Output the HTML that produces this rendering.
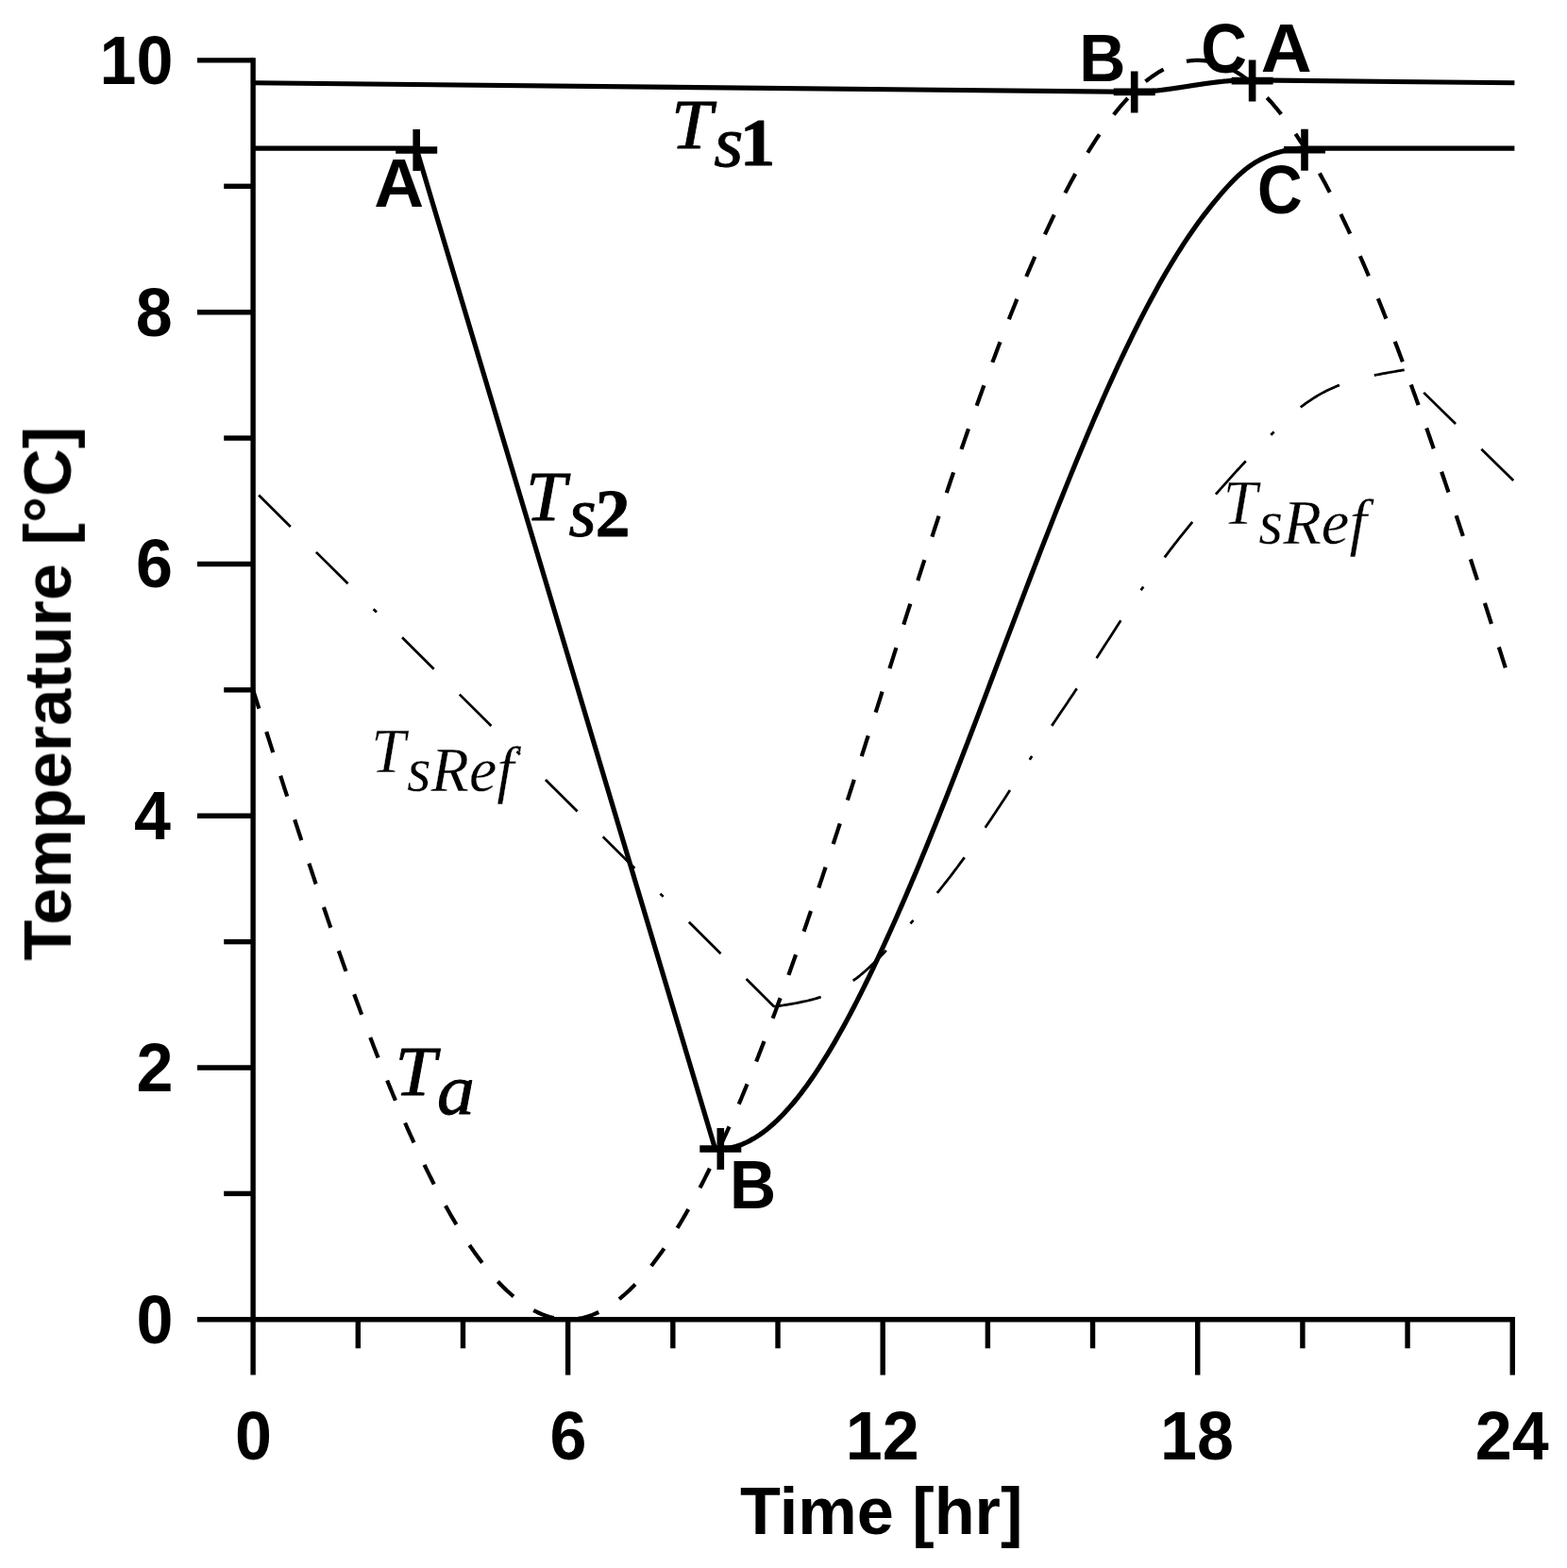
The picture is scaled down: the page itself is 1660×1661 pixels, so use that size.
<!DOCTYPE html>
<html lang="en"><head><meta charset="utf-8"><title>Temperature vs Time</title>
<style>html,body{margin:0;padding:0;background:#fff;overflow:hidden}svg{display:block}</style></head><body>
<svg width="1660" height="1661" viewBox="0 0 1660 1661">
<defs><filter id="soft" x="0" y="0" width="1660" height="1661" filterUnits="userSpaceOnUse"><feGaussianBlur stdDeviation="0.55"/></filter></defs>
<rect width="1660" height="1661" fill="#fff"/>
<g filter="url(#soft)">
<g stroke="#000" stroke-width="5.40" fill="none" stroke-linecap="butt">
<path d="M268.10 61.20 V1456.60"/>
<path d="M209.00 1397.80 H1604.96"/>
<path d="M237.20 1264.41 H268.10"/>
<path d="M209.00 1131.02 H268.10"/>
<path d="M237.20 997.63 H268.10"/>
<path d="M209.00 864.24 H268.10"/>
<path d="M237.20 730.85 H268.10"/>
<path d="M209.00 597.46 H268.10"/>
<path d="M237.20 464.07 H268.10"/>
<path d="M209.00 330.68 H268.10"/>
<path d="M237.20 197.29 H268.10"/>
<path d="M209.00 63.90 H268.10"/>
<path d="M379.28 1397.80 V1428.30"/>
<path d="M490.46 1397.80 V1428.30"/>
<path d="M601.64 1397.80 V1456.60"/>
<path d="M712.82 1397.80 V1428.30"/>
<path d="M824.00 1397.80 V1428.30"/>
<path d="M935.18 1397.80 V1456.60"/>
<path d="M1046.36 1397.80 V1428.30"/>
<path d="M1157.54 1397.80 V1428.30"/>
<path d="M1268.72 1397.80 V1456.60"/>
<path d="M1379.90 1397.80 V1428.30"/>
<path d="M1491.08 1397.80 V1428.30"/>
<path d="M1602.26 1397.80 V1456.60"/>
</g>
<text transform="translate(393.37 818.40) scale(0.8679 0.8944)" font-family="'Liberation Serif', 'Times New Roman', serif" font-size="75.0" font-style="italic" font-weight="normal" fill="#000" stroke="#fff" stroke-width="0.35" stroke-linejoin="round">T<tspan dx="1.54" dy="21.81" font-size="76.13" font-style="italic" font-weight="normal">sRef</tspan></text>
<text transform="translate(1295.77 555.30) scale(0.8679 0.8944)" font-family="'Liberation Serif', 'Times New Roman', serif" font-size="75.0" font-style="italic" font-weight="normal" fill="#000" stroke="#fff" stroke-width="0.35" stroke-linejoin="round">T<tspan dx="1.53" dy="22.91" font-size="76.74" font-style="italic" font-weight="normal">sRef</tspan></text>
<path d="M268.10 730.85 L269.21 734.35 L270.33 737.84 L271.44 741.33 L272.55 744.83 L273.66 748.32 L274.78 751.82 L275.89 755.31 L277.00 758.80 L278.11 762.29 L279.23 765.78 L280.34 769.27 L281.45 772.76 L282.57 776.25 L283.68 779.74 L284.79 783.22 L285.90 786.71 L287.02 790.19 L288.13 793.67 L289.24 797.15 L290.35 800.62 L291.47 804.10 L292.58 807.57 L293.69 811.04 L294.81 814.51 L295.92 817.98 L297.03 821.44 L298.14 824.90 L299.26 828.36 L300.37 831.82 L301.48 835.27 L302.59 838.72 L303.71 842.17 L304.82 845.61 L305.93 849.05 L307.05 852.49 L308.16 855.93 L309.27 859.36 L310.38 862.79 L311.50 866.21 L312.61 869.63 L313.72 873.05 L314.83 876.46 L315.95 879.87 L317.06 883.27 L318.17 886.67 L319.29 890.07 L320.40 893.46 L321.51 896.85 L322.62 900.23 L323.74 903.61 L324.85 906.98 L325.96 910.35 L327.07 913.72 L328.19 917.07 L329.30 920.43 L330.41 923.78 L331.53 927.12 L332.64 930.46 L333.75 933.79 L334.86 937.12 L335.98 940.44 L337.09 943.75 L338.20 947.06 L339.31 950.36 L340.43 953.66 L341.54 956.95 L342.65 960.24 L343.77 963.52 L344.88 966.79 L345.99 970.05 L347.10 973.31 L348.22 976.57 L349.33 979.81 L350.44 983.05 L351.55 986.28 L352.67 989.51 L353.78 992.73 L354.89 995.94 L356.01 999.14 L357.12 1002.34 L358.23 1005.52 L359.34 1008.71 L360.46 1011.88 L361.57 1015.04 L362.68 1018.20 L363.79 1021.35 L364.91 1024.49 L366.02 1027.63 L367.13 1030.75 L368.25 1033.87 L369.36 1036.98 L370.47 1040.08 L371.58 1043.18 L372.70 1046.26 L373.81 1049.33 L374.92 1052.40 L376.03 1055.46 L377.15 1058.51 L378.26 1061.55 L379.37 1064.58 L380.49 1067.60 L381.60 1070.61 L382.71 1073.61 L383.82 1076.61 L384.94 1079.59 L386.05 1082.57 L387.16 1085.53 L388.27 1088.49 L389.39 1091.43 L390.50 1094.37 L391.61 1097.29 L392.73 1100.21 L393.84 1103.11 L394.95 1106.01 L396.06 1108.89 L397.18 1111.76 L398.29 1114.63 L399.40 1117.48 L400.51 1120.32 L401.63 1123.16 L402.74 1125.98 L403.85 1128.79 L404.97 1131.59 L406.08 1134.37 L407.19 1137.15 L408.30 1139.92 L409.42 1142.67 L410.53 1145.42 L411.64 1148.15 L412.75 1150.87 L413.87 1153.58 L414.98 1156.28 L416.09 1158.96 L417.21 1161.64 L418.32 1164.30 L419.43 1166.95 L420.54 1169.59 L421.66 1172.21 L422.77 1174.83 L423.88 1177.43 L424.99 1180.02 L426.11 1182.60 L427.22 1185.16 L428.33 1187.71 L429.45 1190.25 L430.56 1192.78 L431.67 1195.30 L432.78 1197.80 L433.90 1200.29 L435.01 1202.76 L436.12 1205.23 L437.23 1207.68 L438.35 1210.11 L439.46 1212.54 L440.57 1214.95 L441.69 1217.35 L442.80 1219.73 L443.91 1222.10 L445.02 1224.46 L446.14 1226.80 L447.25 1229.13 L448.36 1231.45 L449.47 1233.75 L450.59 1236.04 L451.70 1238.31 L452.81 1240.58 L453.93 1242.82 L455.04 1245.06 L456.15 1247.27 L457.26 1249.48 L458.38 1251.67 L459.49 1253.85 L460.60 1256.01 L461.71 1258.15 L462.83 1260.29 L463.94 1262.41 L465.05 1264.51 L466.17 1266.60 L467.28 1268.67 L468.39 1270.73 L469.50 1272.78 L470.62 1274.81 L471.73 1276.82 L472.84 1278.82 L473.95 1280.81 L475.07 1282.78 L476.18 1284.73 L477.29 1286.67 L478.41 1288.59 L479.52 1290.50 L480.63 1292.40 L481.74 1294.27 L482.86 1296.14 L483.97 1297.98 L485.08 1299.81 L486.19 1301.63 L487.31 1303.43 L488.42 1305.22 L489.53 1306.98 L490.65 1308.74 L491.76 1310.47 L492.87 1312.19 L493.98 1313.90 L495.10 1315.59 L496.21 1317.26 L497.32 1318.92 L498.43 1320.56 L499.55 1322.18 L500.66 1323.79 L501.77 1325.38 L502.89 1326.96 L504.00 1328.52 L505.11 1330.06 L506.22 1331.59 L507.34 1333.10 L508.45 1334.59 L509.56 1336.07 L510.67 1337.53 L511.79 1338.97 L512.90 1340.40 L514.01 1341.81 L515.13 1343.20 L516.24 1344.58 L517.35 1345.94 L518.46 1347.28 L519.58 1348.61 L520.69 1349.92 L521.80 1351.21 L522.91 1352.48 L524.03 1353.74 L525.14 1354.98 L526.25 1356.21 L527.37 1357.41 L528.48 1358.60 L529.59 1359.77 L530.70 1360.93 L531.82 1362.06 L532.93 1363.18 L534.04 1364.29 L535.15 1365.37 L536.27 1366.44 L537.38 1367.49 L538.49 1368.52 L539.61 1369.54 L540.72 1370.54 L541.83 1371.52 L542.94 1372.48 L544.06 1373.43 L545.17 1374.35 L546.28 1375.26 L547.39 1376.15 L548.51 1377.03 L549.62 1377.89 L550.73 1378.72 L551.85 1379.55 L552.96 1380.35 L554.07 1381.13 L555.18 1381.90 L556.30 1382.65 L557.41 1383.38 L558.52 1384.10 L559.63 1384.79 L560.75 1385.47 L561.86 1386.13 L562.97 1386.77 L564.09 1387.40 L565.20 1388.00 L566.31 1388.59 L567.42 1389.16 L568.54 1389.71 L569.65 1390.24 L570.76 1390.76 L571.87 1391.26 L572.99 1391.74 L574.10 1392.20 L575.21 1392.64 L576.33 1393.07 L577.44 1393.47 L578.55 1393.86 L579.66 1394.23 L580.78 1394.58 L581.89 1394.92 L583.00 1395.23 L584.11 1395.53 L585.23 1395.81 L586.34 1396.07 L587.45 1396.31 L588.57 1396.54 L589.68 1396.74 L590.79 1396.93 L591.90 1397.10 L593.02 1397.25 L594.13 1397.38 L595.24 1397.50 L596.35 1397.59 L597.47 1397.67 L598.58 1397.73 L599.69 1397.77 L600.81 1397.79 L601.92 1397.80 L603.03 1397.79 L604.14 1397.75 L605.26 1397.70 L606.37 1397.63 L607.48 1397.55 L608.59 1397.44 L609.71 1397.32 L610.82 1397.18 L611.93 1397.02 L613.05 1396.84 L614.16 1396.64 L615.27 1396.43 L616.38 1396.19 L617.50 1395.94 L618.61 1395.67 L619.72 1395.38 L620.83 1395.08 L621.95 1394.75 L623.06 1394.41 L624.17 1394.05 L625.29 1393.67 L626.40 1393.27 L627.51 1392.86 L628.62 1392.42 L629.74 1391.97 L630.85 1391.50 L631.96 1391.01 L633.07 1390.50 L634.19 1389.98 L635.30 1389.44 L636.41 1388.88 L637.53 1388.30 L638.64 1387.70 L639.75 1387.09 L640.86 1386.45 L641.98 1385.80 L643.09 1385.13 L644.20 1384.45 L645.31 1383.74 L646.43 1383.02 L647.54 1382.28 L648.65 1381.52 L649.77 1380.74 L650.88 1379.95 L651.99 1379.14 L653.10 1378.31 L654.22 1377.46 L655.33 1376.59 L656.44 1375.71 L657.55 1374.81 L658.67 1373.89 L659.78 1372.95 L660.89 1372.00 L662.01 1371.03 L663.12 1370.04 L664.23 1369.03 L665.34 1368.01 L666.46 1366.97 L667.57 1365.91 L668.68 1364.83 L669.79 1363.74 L670.91 1362.63 L672.02 1361.50 L673.13 1360.35 L674.25 1359.19 L675.36 1358.01 L676.47 1356.81 L677.58 1355.60 L678.70 1354.36 L679.81 1353.11 L680.92 1351.85 L682.03 1350.56 L683.15 1349.26 L684.26 1347.95 L685.37 1346.61 L686.49 1345.26 L687.60 1343.89 L688.71 1342.51 L689.82 1341.11 L690.94 1339.69 L692.05 1338.25 L693.16 1336.80 L694.27 1335.33 L695.39 1333.85 L696.50 1332.35 L697.61 1330.83 L698.73 1329.29 L699.84 1327.74 L700.95 1326.17 L702.06 1324.59 L703.18 1322.99 L704.29 1321.37 L705.40 1319.74 L706.51 1318.09 L707.63 1316.43 L708.74 1314.75 L709.85 1313.05 L710.97 1311.34 L712.08 1309.61 L713.19 1307.86 L714.30 1306.10 L715.42 1304.33 L716.53 1302.53 L717.64 1300.72 L718.75 1298.90 L719.87 1297.06 L720.98 1295.21 L722.09 1293.34 L723.21 1291.45 L724.32 1289.55 L725.43 1287.63 L726.54 1285.70 L727.66 1283.75 L728.77 1281.79 L729.88 1279.82 L730.99 1277.82 L732.11 1275.82 L733.22 1273.79 L734.33 1271.76 L735.45 1269.70 L736.56 1267.64 L737.67 1265.56 L738.78 1263.46 L739.90 1261.35 L741.01 1259.22 L742.12 1257.08 L743.23 1254.93 L744.35 1252.76 L745.46 1250.58 L746.57 1248.38 L747.69 1246.17 L748.80 1243.94 L749.91 1241.70 L751.02 1239.45 L752.14 1237.18 L753.25 1234.90 L754.36 1232.60 L755.47 1230.29 L756.59 1227.97 L757.70 1225.63 L758.81 1223.28 L759.93 1220.92 L761.04 1218.54 L762.15 1216.15 L763.26 1213.75 L764.38 1211.33 L765.49 1208.90 L766.60 1206.45 L767.71 1204.00 L768.83 1201.53 L769.94 1199.04 L771.05 1196.55 L772.17 1194.04 L773.28 1191.52 L774.39 1188.99 L775.50 1186.44 L776.62 1183.88 L777.73 1181.31 L778.84 1178.73 L779.95 1176.13 L781.07 1173.52 L782.18 1170.90 L783.29 1168.27 L784.41 1165.62 L785.52 1162.97 L786.63 1160.30 L787.74 1157.62 L788.86 1154.93 L789.97 1152.23 L791.08 1149.51 L792.19 1146.78 L793.31 1144.05 L794.42 1141.30 L795.53 1138.54 L796.65 1135.76 L797.76 1132.98 L798.87 1130.19 L799.98 1127.38 L801.10 1124.57 L802.21 1121.74 L803.32 1118.90 L804.43 1116.06 L805.55 1113.20 L806.66 1110.33 L807.77 1107.45 L808.89 1104.56 L810.00 1101.66 L811.11 1098.75 L812.22 1095.83 L813.34 1092.90 L814.45 1089.96 L815.56 1087.01 L816.67 1084.05 L817.79 1081.08 L818.90 1078.10 L820.01 1075.11 L821.13 1072.11 L822.24 1069.11 L823.35 1066.09 L824.46 1063.06 L825.58 1060.03 L826.69 1056.98 L827.80 1053.93 L828.91 1050.87 L830.03 1047.80 L831.14 1044.72 L832.25 1041.63 L833.37 1038.53 L834.48 1035.43 L835.59 1032.31 L836.70 1029.19 L837.82 1026.06 L838.93 1022.92 L840.04 1019.78 L841.15 1016.62 L842.27 1013.46 L843.38 1010.29 L844.49 1007.12 L845.61 1003.93 L846.72 1000.74 L847.83 997.54 L848.94 994.33 L850.06 991.12 L851.17 987.90 L852.28 984.67 L853.39 981.43 L854.51 978.19 L855.62 974.94 L856.73 971.68 L857.85 968.42 L858.96 965.15 L860.07 961.88 L861.18 958.60 L862.30 955.31 L863.41 952.01 L864.52 948.71 L865.63 945.41 L866.75 942.09 L867.86 938.78 L868.97 935.45 L870.09 932.12 L871.20 928.79 L872.31 925.45 L873.42 922.10 L874.54 918.75 L875.65 915.40 L876.76 912.03 L877.87 908.67 L878.99 905.30 L880.10 901.92 L881.21 898.54 L882.33 895.16 L883.44 891.77 L884.55 888.37 L885.66 884.97 L886.78 881.57 L887.89 878.16 L889.00 874.75 L890.11 871.34 L891.23 867.92 L892.34 864.50 L893.45 861.07 L894.57 857.64 L895.68 854.21 L896.79 850.77 L897.90 847.33 L899.02 843.89 L900.13 840.44 L901.24 837.00 L902.35 833.54 L903.47 830.09 L904.58 826.63 L905.69 823.17 L906.81 819.71 L907.92 816.24 L909.03 812.78 L910.14 809.31 L911.26 805.83 L912.37 802.36 L913.48 798.89 L914.59 795.41 L915.71 791.93 L916.82 788.45 L917.93 784.96 L919.05 781.48 L920.16 777.99 L921.27 774.51 L922.38 771.02 L923.50 767.53 L924.61 764.04 L925.72 760.55 L926.83 757.06 L927.95 753.56 L929.06 750.07 L930.17 746.58 L931.29 743.08 L932.40 739.59 L933.51 736.09 L934.62 732.60 L935.74 729.10 L936.85 725.61 L937.96 722.11 L939.07 718.62 L940.19 715.12 L941.30 711.63 L942.41 708.14 L943.53 704.64 L944.64 701.15 L945.75 697.66 L946.86 694.17 L947.98 690.68 L949.09 687.19 L950.20 683.71 L951.31 680.22 L952.43 676.74 L953.54 673.25 L954.65 669.77 L955.77 666.29 L956.88 662.81 L957.99 659.34 L959.10 655.87 L960.22 652.39 L961.33 648.92 L962.44 645.46 L963.55 641.99 L964.67 638.53 L965.78 635.07 L966.89 631.61 L968.01 628.16 L969.12 624.70 L970.23 621.26 L971.34 617.81 L972.46 614.37 L973.57 610.93 L974.68 607.49 L975.79 604.06 L976.91 600.63 L978.02 597.20 L979.13 593.78 L980.25 590.36 L981.36 586.95 L982.47 583.54 L983.58 580.13 L984.70 576.73 L985.81 573.33 L986.92 569.93 L988.03 566.54 L989.15 563.16 L990.26 559.78 L991.37 556.40 L992.49 553.03 L993.60 549.67 L994.71 546.30 L995.82 542.95 L996.94 539.60 L998.05 536.25 L999.16 532.91 L1000.27 529.58 L1001.39 526.25 L1002.50 522.92 L1003.61 519.61 L1004.73 516.29 L1005.84 512.99 L1006.95 509.69 L1008.06 506.39 L1009.18 503.10 L1010.29 499.82 L1011.40 496.55 L1012.51 493.28 L1013.63 490.02 L1014.74 486.76 L1015.85 483.51 L1016.97 480.27 L1018.08 477.03 L1019.19 473.80 L1020.30 470.58 L1021.42 467.37 L1022.53 464.16 L1023.64 460.96 L1024.75 457.77 L1025.87 454.58 L1026.98 451.41 L1028.09 448.24 L1029.21 445.08 L1030.32 441.92 L1031.43 438.78 L1032.54 435.64 L1033.66 432.51 L1034.77 429.39 L1035.88 426.27 L1036.99 423.17 L1038.11 420.07 L1039.22 416.98 L1040.33 413.90 L1041.45 410.83 L1042.56 407.77 L1043.67 404.72 L1044.78 401.67 L1045.90 398.64 L1047.01 395.61 L1048.12 392.59 L1049.23 389.59 L1050.35 386.59 L1051.46 383.60 L1052.57 380.62 L1053.69 377.65 L1054.80 374.69 L1055.91 371.74 L1057.02 368.80 L1058.14 365.87 L1059.25 362.95 L1060.36 360.04 L1061.47 357.14 L1062.59 354.25 L1063.70 351.37 L1064.81 348.50 L1065.93 345.64 L1067.04 342.80 L1068.15 339.96 L1069.26 337.13 L1070.38 334.32 L1071.49 331.51 L1072.60 328.72 L1073.71 325.94 L1074.83 323.16 L1075.94 320.40 L1077.05 317.65 L1078.17 314.92 L1079.28 312.19 L1080.39 309.47 L1081.50 306.77 L1082.62 304.08 L1083.73 301.40 L1084.84 298.73 L1085.95 296.08 L1087.07 293.43 L1088.18 290.80 L1089.29 288.18 L1090.41 285.57 L1091.52 282.97 L1092.63 280.39 L1093.74 277.82 L1094.86 275.26 L1095.97 272.71 L1097.08 270.18 L1098.19 267.66 L1099.31 265.15 L1100.42 262.66 L1101.53 260.17 L1102.65 257.70 L1103.76 255.25 L1104.87 252.80 L1105.98 250.37 L1107.10 247.95 L1108.21 245.55 L1109.32 243.16 L1110.43 240.78 L1111.55 238.42 L1112.66 236.07 L1113.77 233.73 L1114.89 231.41 L1116.00 229.10 L1117.11 226.80 L1118.22 224.52 L1119.34 222.25 L1120.45 220.00 L1121.56 217.76 L1122.67 215.53 L1123.79 213.32 L1124.90 211.12 L1126.01 208.94 L1127.13 206.77 L1128.24 204.62 L1129.35 202.48 L1130.46 200.35 L1131.58 198.24 L1132.69 196.14 L1133.80 194.06 L1134.91 192.00 L1136.03 189.94 L1137.14 187.91 L1138.25 185.88 L1139.37 183.88 L1140.48 181.88 L1141.59 179.91 L1142.70 177.95 L1143.82 176.00 L1144.93 174.07 L1146.04 172.15 L1147.15 170.25 L1148.27 168.36 L1149.38 166.49 L1150.49 164.64 L1151.61 162.80 L1152.72 160.98 L1153.83 159.17 L1154.94 157.37 L1156.06 155.60 L1157.17 153.84 L1158.28 152.09 L1159.39 150.36 L1160.51 148.65 L1161.62 146.95 L1162.73 145.27 L1163.85 143.61 L1164.96 141.96 L1166.07 140.33 L1167.18 138.71 L1168.30 137.11 L1169.41 135.53 L1170.52 133.96 L1171.63 132.41 L1172.75 130.87 L1173.86 129.35 L1174.97 127.85 L1176.09 126.37 L1177.20 124.90 L1178.31 123.45 L1179.42 122.01 L1180.54 120.59 L1181.65 119.19 L1182.76 117.81 L1183.87 116.44 L1184.99 115.09 L1186.10 113.75 L1187.21 112.44 L1188.33 111.14 L1189.44 109.85 L1190.55 108.59 L1191.66 107.34 L1192.78 106.10 L1193.89 104.89 L1195.00 103.69 L1196.11 102.51 L1197.23 101.35 L1198.34 100.20 L1199.45 99.07 L1200.57 97.96 L1201.68 96.87 L1202.79 95.79 L1203.90 94.73 L1205.02 93.69 L1206.13 92.67 L1207.24 91.66 L1208.35 90.67 L1209.47 89.70 L1210.58 88.75 L1211.69 87.81 L1212.81 86.89 L1213.92 85.99 L1215.03 85.11 L1216.14 84.24 L1217.26 83.39 L1218.37 82.56 L1219.48 81.75 L1220.59 80.96 L1221.71 80.18 L1222.82 79.42 L1223.93 78.68 L1225.05 77.96 L1226.16 77.25 L1227.27 76.57 L1228.38 75.90 L1229.50 75.25 L1230.61 74.61 L1231.72 74.00 L1232.83 73.40 L1233.95 72.82 L1235.06 72.26 L1236.17 71.72 L1237.29 71.20 L1238.40 70.69 L1239.51 70.20 L1240.62 69.73 L1241.74 69.28 L1242.85 68.84 L1243.96 68.43 L1245.07 68.03 L1246.19 67.65 L1247.30 67.29 L1248.41 66.95 L1249.53 66.62 L1250.64 66.32 L1251.75 66.03 L1252.86 65.76 L1253.98 65.51 L1255.09 65.27 L1256.20 65.06 L1257.31 64.86 L1258.43 64.68 L1259.54 64.52 L1260.65 64.38 L1261.77 64.26 L1262.88 64.15 L1263.99 64.07 L1265.10 64.00 L1266.22 63.95 L1267.33 63.91 L1268.44 63.90 L1269.55 63.91 L1270.67 63.93 L1271.78 63.97 L1272.89 64.03 L1274.01 64.11 L1275.12 64.20 L1276.23 64.32 L1277.34 64.45 L1278.46 64.60 L1279.57 64.77 L1280.68 64.96 L1281.79 65.16 L1282.91 65.39 L1284.02 65.63 L1285.13 65.89 L1286.25 66.17 L1287.36 66.47 L1288.47 66.78 L1289.58 67.12 L1290.70 67.47 L1291.81 67.84 L1292.92 68.23 L1294.03 68.63 L1295.15 69.06 L1296.26 69.50 L1297.37 69.96 L1298.49 70.44 L1299.60 70.94 L1300.71 71.46 L1301.82 71.99 L1302.94 72.54 L1304.05 73.11 L1305.16 73.70 L1306.27 74.30 L1307.39 74.93 L1308.50 75.57 L1309.61 76.23 L1310.73 76.91 L1311.84 77.60 L1312.95 78.32 L1314.06 79.05 L1315.18 79.80 L1316.29 80.57 L1317.40 81.35 L1318.51 82.15 L1319.63 82.98 L1320.74 83.81 L1321.85 84.67 L1322.97 85.55 L1324.08 86.44 L1325.19 87.35 L1326.30 88.27 L1327.42 89.22 L1328.53 90.18 L1329.64 91.16 L1330.75 92.16 L1331.87 93.18 L1332.98 94.21 L1334.09 95.26 L1335.21 96.33 L1336.32 97.41 L1337.43 98.52 L1338.54 99.64 L1339.66 100.77 L1340.77 101.93 L1341.88 103.10 L1342.99 104.29 L1344.11 105.49 L1345.22 106.72 L1346.33 107.96 L1347.45 109.22 L1348.56 110.49 L1349.67 111.78 L1350.78 113.09 L1351.90 114.42 L1353.01 115.76 L1354.12 117.12 L1355.23 118.50 L1356.35 119.89 L1357.46 121.30 L1358.57 122.73 L1359.69 124.17 L1360.80 125.63 L1361.91 127.11 L1363.02 128.60 L1364.14 130.11 L1365.25 131.64 L1366.36 133.18 L1367.47 134.74 L1368.59 136.32 L1369.70 137.91 L1370.81 139.52 L1371.93 141.14 L1373.04 142.78 L1374.15 144.44 L1375.26 146.11 L1376.38 147.80 L1377.49 149.51 L1378.60 151.23 L1379.71 152.96 L1380.83 154.72 L1381.94 156.48 L1383.05 158.27 L1384.17 160.07 L1385.28 161.89 L1386.39 163.72 L1387.50 165.56 L1388.62 167.43 L1389.73 169.30 L1390.84 171.20 L1391.95 173.11 L1393.07 175.03 L1394.18 176.97 L1395.29 178.92 L1396.41 180.89 L1397.52 182.88 L1398.63 184.88 L1399.74 186.89 L1400.86 188.92 L1401.97 190.97 L1403.08 193.03 L1404.19 195.10 L1405.31 197.19 L1406.42 199.29 L1407.53 201.41 L1408.65 203.55 L1409.76 205.69 L1410.87 207.85 L1411.98 210.03 L1413.10 212.22 L1414.21 214.43 L1415.32 216.64 L1416.43 218.88 L1417.55 221.12 L1418.66 223.39 L1419.77 225.66 L1420.89 227.95 L1422.00 230.25 L1423.11 232.57 L1424.22 234.90 L1425.34 237.24 L1426.45 239.60 L1427.56 241.97 L1428.67 244.35 L1429.79 246.75 L1430.90 249.16 L1432.01 251.59 L1433.13 254.02 L1434.24 256.47 L1435.35 258.94 L1436.46 261.41 L1437.58 263.90 L1438.69 266.40 L1439.80 268.92 L1440.91 271.45 L1442.03 273.99 L1443.14 276.54 L1444.25 279.10 L1445.37 281.68 L1446.48 284.27 L1447.59 286.87 L1448.70 289.49 L1449.82 292.11 L1450.93 294.75 L1452.04 297.40 L1453.15 300.06 L1454.27 302.74 L1455.38 305.42 L1456.49 308.12 L1457.61 310.83 L1458.72 313.55 L1459.83 316.28 L1460.94 319.03 L1462.06 321.78 L1463.17 324.55 L1464.28 327.33 L1465.39 330.11 L1466.51 332.91 L1467.62 335.72 L1468.73 338.54 L1469.85 341.38 L1470.96 344.22 L1472.07 347.07 L1473.18 349.94 L1474.30 352.81 L1475.41 355.69 L1476.52 358.59 L1477.63 361.49 L1478.75 364.41 L1479.86 367.33 L1480.97 370.27 L1482.09 373.21 L1483.20 376.17 L1484.31 379.13 L1485.42 382.11 L1486.54 385.09 L1487.65 388.09 L1488.76 391.09 L1489.87 394.10 L1490.99 397.12 L1492.10 400.15 L1493.21 403.19 L1494.33 406.24 L1495.44 409.30 L1496.55 412.37 L1497.66 415.44 L1498.78 418.52 L1499.89 421.62 L1501.00 424.72 L1502.11 427.83 L1503.23 430.95 L1504.34 434.07 L1505.45 437.21 L1506.57 440.35 L1507.68 443.50 L1508.79 446.66 L1509.90 449.82 L1511.02 452.99 L1512.13 456.18 L1513.24 459.36 L1514.35 462.56 L1515.47 465.76 L1516.58 468.97 L1517.69 472.19 L1518.81 475.42 L1519.92 478.65 L1521.03 481.89 L1522.14 485.13 L1523.26 488.39 L1524.37 491.65 L1525.48 494.91 L1526.59 498.18 L1527.71 501.46 L1528.82 504.75 L1529.93 508.04 L1531.05 511.34 L1532.16 514.64 L1533.27 517.95 L1534.38 521.26 L1535.50 524.58 L1536.61 527.91 L1537.72 531.24 L1538.83 534.58 L1539.95 537.92 L1541.06 541.27 L1542.17 544.63 L1543.29 547.98 L1544.40 551.35 L1545.51 554.72 L1546.62 558.09 L1547.74 561.47 L1548.85 564.85 L1549.96 568.24 L1551.07 571.63 L1552.19 575.03 L1553.30 578.43 L1554.41 581.83 L1555.53 585.24 L1556.64 588.65 L1557.75 592.07 L1558.86 595.49 L1559.98 598.91 L1561.09 602.34 L1562.20 605.77 L1563.31 609.21 L1564.43 612.65 L1565.54 616.09 L1566.65 619.53 L1567.77 622.98 L1568.88 626.43 L1569.99 629.88 L1571.10 633.34 L1572.22 636.80 L1573.33 640.26 L1574.44 643.72 L1575.55 647.19 L1576.67 650.66 L1577.78 654.13 L1578.89 657.60 L1580.01 661.08 L1581.12 664.55 L1582.23 668.03 L1583.34 671.51 L1584.46 674.99 L1585.57 678.48 L1586.68 681.96 L1587.79 685.45 L1588.91 688.94 L1590.02 692.43 L1591.13 695.92 L1592.25 699.41 L1593.36 702.90 L1594.47 706.39 L1595.58 709.88 L1596.70 713.38 L1597.81 716.87 L1598.92 720.37 L1600.03 723.86 L1601.15 727.35 L1602.26 730.85" fill="none" stroke="#000" stroke-width="4.20" stroke-dasharray="23 25.86" stroke-dashoffset="2.30"/>
<g fill="none" stroke="#000" stroke-width="2.75" stroke-dasharray="47.40 38.20 47.40 38.20 4.60 38.20">
<path d="M268.10 518.60 L820.20 1066.48" stroke-dashoffset="-8.5"/>
<path d="M820.20 1066.48 L822.43 1066.11 L824.66 1065.74 L826.90 1065.37 L829.13 1065.01 L831.36 1064.65 L833.59 1064.28 L835.83 1063.91 L838.06 1063.53 L840.29 1063.14 L842.52 1062.74 L844.76 1062.32 L846.99 1061.89 L849.22 1061.44 L851.45 1060.97 L853.69 1060.48 L855.92 1059.97 L858.15 1059.42 L860.38 1058.85 L862.62 1058.25 L864.85 1057.61 L867.08 1056.94 L869.31 1056.23 L871.55 1055.48 L873.78 1054.69 L876.01 1053.85 L878.24 1052.97 L880.48 1052.04 L882.71 1051.06 L884.94 1050.02 L887.17 1048.93 L889.41 1047.79 L891.64 1046.58 L893.87 1045.31 L896.10 1043.98 L898.34 1042.58 L900.57 1041.11 L902.80 1039.58 L905.03 1037.97 L907.27 1036.29 L909.50 1034.55 L911.73 1032.74 L913.96 1030.87 L916.19 1028.95 L918.43 1026.96 L920.66 1024.93 L922.89 1022.84 L925.12 1020.71 L927.36 1018.54 L929.59 1016.32 L931.82 1014.06 L934.05 1011.77 L936.29 1009.45 L938.52 1007.09 L940.75 1004.70 L942.98 1002.29 L945.22 999.86 L947.45 997.41 L949.68 994.94 L951.91 992.46 L954.15 989.97 L956.38 987.46 L958.61 984.96 L960.84 982.44 L963.08 979.93 L965.31 977.42 L967.54 974.92 L969.77 972.41 L972.01 969.91 L974.24 967.39 L976.47 964.87 L978.70 962.34 L980.94 959.79 L983.17 957.23 L985.40 954.64 L987.63 952.03 L989.87 949.39 L992.10 946.72 L994.33 944.01 L996.56 941.27 L998.80 938.50 L1001.03 935.69 L1003.26 932.85 L1005.49 929.98 L1007.73 927.08 L1009.96 924.15 L1012.19 921.19 L1014.42 918.20 L1016.65 915.19 L1018.89 912.14 L1021.12 909.08 L1023.35 905.98 L1025.58 902.87 L1027.82 899.73 L1030.05 896.56 L1032.28 893.38 L1034.51 890.17 L1036.75 886.94 L1038.98 883.70 L1041.21 880.43 L1043.44 877.15 L1045.68 873.85 L1047.91 870.53 L1050.14 867.20 L1052.37 863.85 L1054.61 860.49 L1056.84 857.11 L1059.07 853.72 L1061.30 850.32 L1063.54 846.91 L1065.77 843.49 L1068.00 840.06 L1070.23 836.62 L1072.47 833.17 L1074.70 829.72 L1076.93 826.26 L1079.16 822.80 L1081.40 819.33 L1083.63 815.86 L1085.86 812.39 L1088.09 808.93 L1090.33 805.46 L1092.56 802.00 L1094.79 798.55 L1097.02 795.10 L1099.26 791.65 L1101.49 788.22 L1103.72 784.80 L1105.95 781.38 L1108.18 777.98 L1110.42 774.59 L1112.65 771.22 L1114.88 767.87 L1117.11 764.53 L1119.35 761.20 L1121.58 757.88 L1123.81 754.58 L1126.04 751.27 L1128.28 747.97 L1130.51 744.66 L1132.74 741.35 L1134.97 738.03 L1137.21 734.70 L1139.44 731.35 L1141.67 727.99 L1143.90 724.60 L1146.14 721.20 L1148.37 717.79 L1150.60 714.36 L1152.83 710.92 L1155.07 707.46 L1157.30 704.00 L1159.53 700.53 L1161.76 697.05 L1164.00 693.57 L1166.23 690.09 L1168.46 686.60 L1170.69 683.11 L1172.93 679.63 L1175.16 676.14 L1177.39 672.66 L1179.62 669.19 L1181.86 665.72 L1184.09 662.26 L1186.32 658.82 L1188.55 655.38 L1190.79 651.96 L1193.02 648.55 L1195.25 645.16 L1197.48 641.78 L1199.72 638.43 L1201.95 635.09 L1204.18 631.78 L1206.41 628.49 L1208.64 625.23 L1210.88 621.99 L1213.11 618.78 L1215.34 615.59 L1217.57 612.44 L1219.81 609.31 L1222.04 606.20 L1224.27 603.12 L1226.50 600.06 L1228.74 597.02 L1230.97 594.01 L1233.20 591.03 L1235.43 588.06 L1237.67 585.12 L1239.90 582.20 L1242.13 579.30 L1244.36 576.42 L1246.60 573.56 L1248.83 570.72 L1251.06 567.90 L1253.29 565.10 L1255.53 562.31 L1257.76 559.55 L1259.99 556.80 L1262.22 554.07 L1264.46 551.35 L1266.69 548.66 L1268.92 545.97 L1271.15 543.31 L1273.39 540.66 L1275.62 538.02 L1277.85 535.39 L1280.08 532.78 L1282.32 530.19 L1284.55 527.60 L1286.78 525.03 L1289.01 522.47 L1291.25 519.92 L1293.48 517.38 L1295.71 514.86 L1297.94 512.34 L1300.17 509.84 L1302.41 507.34 L1304.64 504.86 L1306.87 502.40 L1309.10 499.94 L1311.34 497.49 L1313.57 495.06 L1315.80 492.63 L1318.03 490.22 L1320.27 487.82 L1322.50 485.44 L1324.73 483.06 L1326.96 480.69 L1329.20 478.34 L1331.43 476.00 L1333.66 473.67 L1335.89 471.35 L1338.13 469.04 L1340.36 466.75 L1342.59 464.46 L1344.82 462.19 L1347.06 459.93 L1349.29 457.68 L1351.52 455.44 L1353.75 453.23 L1355.99 451.03 L1358.22 448.85 L1360.45 446.71 L1362.68 444.60 L1364.92 442.52 L1367.15 440.49 L1369.38 438.49 L1371.61 436.55 L1373.85 434.66 L1376.08 432.83 L1378.31 431.05 L1380.54 429.34 L1382.78 427.68 L1385.01 426.08 L1387.24 424.54 L1389.47 423.05 L1391.71 421.62 L1393.94 420.24 L1396.17 418.91 L1398.40 417.63 L1400.63 416.40 L1402.87 415.22 L1405.10 414.08 L1407.33 412.99 L1409.56 411.94 L1411.80 410.93 L1414.03 409.96 L1416.26 409.03 L1418.49 408.14 L1420.73 407.28 L1422.96 406.46 L1425.19 405.67 L1427.42 404.92 L1429.66 404.19 L1431.89 403.50 L1434.12 402.83 L1436.35 402.19 L1438.59 401.58 L1440.82 400.99 L1443.05 400.42 L1445.28 399.88 L1447.52 399.35 L1449.75 398.85 L1451.98 398.36 L1454.21 397.88 L1456.45 397.42 L1458.68 396.98 L1460.91 396.55 L1463.14 396.12 L1465.38 395.71 L1467.61 395.31 L1469.84 394.91 L1472.07 394.52 L1474.31 394.13 L1476.54 393.74 L1478.77 393.36 L1481.00 392.97 L1483.24 392.59 L1485.47 392.20 L1487.70 391.80" stroke-dasharray="47.59 38.35 47.59 38.35 4.62 38.35" stroke-dashoffset="-3"/>
<path d="M820.20 1066.48 L822.43 1066.11 L824.66 1065.74" stroke-dasharray="none"/>
<path d="M1487.70 395.80 L1604.00 509.80" stroke-dashoffset="185.3"/>
</g>
<path d="M268.10 157.10 L441.00 157.10 L757.60 1217.00 L760.74 1217.13 L763.88 1217.10 L767.01 1216.90 L770.15 1216.54 L773.29 1216.01 L776.43 1215.32 L779.56 1214.47 L782.70 1213.46 L785.84 1212.29 L788.98 1210.97 L792.11 1209.49 L795.25 1207.86 L798.39 1206.08 L801.53 1204.14 L804.67 1202.06 L807.80 1199.83 L810.94 1197.46 L814.08 1194.94 L817.22 1192.27 L820.35 1189.47 L823.49 1186.52 L826.63 1183.44 L829.77 1180.22 L832.90 1176.86 L836.04 1173.37 L839.18 1169.74 L842.32 1165.98 L845.46 1162.09 L848.59 1158.07 L851.73 1153.93 L854.87 1149.66 L858.01 1145.26 L861.14 1140.74 L864.28 1136.10 L867.42 1131.34 L870.56 1126.46 L873.69 1121.47 L876.83 1116.36 L879.97 1111.15 L883.11 1105.82 L886.25 1100.39 L889.38 1094.85 L892.52 1089.21 L895.66 1083.48 L898.80 1077.64 L901.93 1071.72 L905.07 1065.70 L908.21 1059.59 L911.35 1053.40 L914.48 1047.12 L917.62 1040.76 L920.76 1034.33 L923.90 1027.81 L927.04 1021.23 L930.17 1014.57 L933.31 1007.84 L936.45 1001.04 L939.59 994.18 L942.72 987.25 L945.86 980.25 L949.00 973.20 L952.14 966.08 L955.27 958.90 L958.41 951.67 L961.55 944.37 L964.69 937.02 L967.83 929.62 L970.96 922.15 L974.10 914.64 L977.24 907.07 L980.38 899.46 L983.51 891.79 L986.65 884.08 L989.79 876.31 L992.93 868.51 L996.06 860.66 L999.20 852.77 L1002.34 844.84 L1005.48 836.87 L1008.62 828.86 L1011.75 820.83 L1014.89 812.76 L1018.03 804.66 L1021.17 796.53 L1024.30 788.38 L1027.44 780.21 L1030.58 772.01 L1033.72 763.80 L1036.85 755.57 L1039.99 747.32 L1043.13 739.06 L1046.27 730.80 L1049.41 722.52 L1052.54 714.24 L1055.68 705.96 L1058.82 697.68 L1061.96 689.39 L1065.09 681.11 L1068.23 672.84 L1071.37 664.57 L1074.51 656.31 L1077.64 648.06 L1080.78 639.82 L1083.92 631.60 L1087.06 623.39 L1090.19 615.21 L1093.33 607.04 L1096.47 598.90 L1099.61 590.78 L1102.75 582.69 L1105.88 574.62 L1109.02 566.59 L1112.16 558.58 L1115.30 550.62 L1118.43 542.68 L1121.57 534.79 L1124.71 526.93 L1127.85 519.11 L1130.98 511.34 L1134.12 503.61 L1137.26 495.93 L1140.40 488.30 L1143.54 480.72 L1146.67 473.18 L1149.81 465.71 L1152.95 458.28 L1156.09 450.92 L1159.22 443.61 L1162.36 436.36 L1165.50 429.17 L1168.64 422.05 L1171.77 414.99 L1174.91 408.00 L1178.05 401.08 L1181.19 394.22 L1184.33 387.44 L1187.46 380.73 L1190.60 374.10 L1193.74 367.54 L1196.88 361.06 L1200.01 354.65 L1203.15 348.33 L1206.29 342.09 L1209.43 335.93 L1212.56 329.86 L1215.70 323.87 L1218.84 317.97 L1221.98 312.16 L1225.12 306.43 L1228.25 300.80 L1231.39 295.26 L1234.53 289.82 L1237.67 284.47 L1240.80 279.21 L1243.94 274.05 L1247.08 268.99 L1250.22 264.03 L1253.35 259.17 L1256.49 254.41 L1259.63 249.75 L1262.77 245.19 L1265.91 240.73 L1269.04 236.36 L1272.18 232.09 L1275.32 227.91 L1278.46 223.83 L1281.59 219.83 L1284.73 215.92 L1287.87 212.08 L1291.01 208.34 L1294.14 204.67 L1297.28 201.10 L1300.42 197.63 L1303.56 194.26 L1306.70 191.02 L1309.83 187.91 L1312.97 184.96 L1316.11 182.16 L1319.25 179.55 L1322.38 177.11 L1325.52 174.86 L1328.66 172.79 L1331.80 170.90 L1334.93 169.17 L1338.07 167.59 L1341.21 166.15 L1344.35 164.84 L1347.49 163.64 L1350.62 162.54 L1353.76 161.54 L1356.90 160.64 L1360.04 159.83 L1363.17 159.12 L1366.31 158.51 L1369.45 158.00 L1372.59 157.60 L1375.72 157.31 L1378.86 157.13 L1382.00 157.07 L1604.40 157.10" fill="none" stroke="#000" stroke-width="5.15" stroke-linejoin="round"/>
<path d="M268.10 87.80 L1201.70 97.40 L1202.33 97.40 L1202.96 97.39 L1203.58 97.38 L1204.21 97.37 L1204.84 97.36 L1205.47 97.35 L1206.09 97.33 L1206.72 97.31 L1207.35 97.29 L1207.98 97.27 L1208.60 97.25 L1209.23 97.22 L1209.86 97.19 L1210.49 97.16 L1211.11 97.13 L1211.74 97.10 L1212.37 97.06 L1213.00 97.03 L1213.63 96.99 L1214.25 96.95 L1214.88 96.91 L1215.51 96.86 L1216.14 96.82 L1216.76 96.77 L1217.39 96.72 L1218.02 96.67 L1218.65 96.62 L1219.27 96.57 L1219.90 96.51 L1220.53 96.46 L1221.16 96.40 L1221.78 96.34 L1222.41 96.28 L1223.04 96.22 L1223.67 96.16 L1224.29 96.09 L1224.92 96.03 L1225.55 95.96 L1226.18 95.89 L1226.81 95.82 L1227.43 95.75 L1228.06 95.68 L1228.69 95.61 L1229.32 95.54 L1229.94 95.46 L1230.57 95.38 L1231.20 95.31 L1231.83 95.23 L1232.45 95.15 L1233.08 95.07 L1233.71 94.99 L1234.34 94.91 L1234.96 94.83 L1235.59 94.74 L1236.22 94.66 L1236.85 94.58 L1237.48 94.49 L1238.10 94.40 L1238.73 94.32 L1239.36 94.23 L1239.99 94.14 L1240.61 94.05 L1241.24 93.96 L1241.87 93.87 L1242.50 93.78 L1243.12 93.69 L1243.75 93.60 L1244.38 93.51 L1245.01 93.41 L1245.63 93.32 L1246.26 93.23 L1246.89 93.13 L1247.52 93.04 L1248.15 92.94 L1248.77 92.85 L1249.40 92.75 L1250.03 92.66 L1250.66 92.56 L1251.28 92.46 L1251.91 92.37 L1252.54 92.27 L1253.17 92.17 L1253.79 92.07 L1254.42 91.98 L1255.05 91.88 L1255.68 91.78 L1256.30 91.68 L1256.93 91.59 L1257.56 91.49 L1258.19 91.39 L1258.82 91.29 L1259.44 91.19 L1260.07 91.10 L1260.70 91.00 L1261.33 90.90 L1261.95 90.80 L1262.58 90.71 L1263.21 90.61 L1263.84 90.51 L1264.46 90.41 L1265.09 90.32 L1265.72 90.22 L1266.35 90.13 L1266.97 90.03 L1267.60 89.93 L1268.23 89.84 L1268.86 89.74 L1269.48 89.65 L1270.11 89.55 L1270.74 89.46 L1271.37 89.37 L1272.00 89.27 L1272.62 89.18 L1273.25 89.09 L1273.88 89.00 L1274.51 88.91 L1275.13 88.82 L1275.76 88.73 L1276.39 88.64 L1277.02 88.55 L1277.64 88.46 L1278.27 88.37 L1278.90 88.28 L1279.53 88.20 L1280.15 88.11 L1280.78 88.03 L1281.41 87.94 L1282.04 87.86 L1282.67 87.78 L1283.29 87.69 L1283.92 87.61 L1284.55 87.53 L1285.18 87.45 L1285.80 87.37 L1286.43 87.30 L1287.06 87.22 L1287.69 87.14 L1288.31 87.07 L1288.94 86.99 L1289.57 86.92 L1290.20 86.85 L1290.82 86.78 L1291.45 86.71 L1292.08 86.64 L1292.71 86.57 L1293.34 86.50 L1293.96 86.44 L1294.59 86.37 L1295.22 86.31 L1295.85 86.25 L1296.47 86.18 L1297.10 86.12 L1297.73 86.06 L1298.36 86.01 L1298.98 85.95 L1299.61 85.89 L1300.24 85.84 L1300.87 85.79 L1301.49 85.73 L1302.12 85.68 L1302.75 85.64 L1303.38 85.59 L1304.01 85.54 L1304.63 85.50 L1305.26 85.45 L1305.89 85.41 L1306.52 85.37 L1307.14 85.33 L1307.77 85.29 L1308.40 85.26 L1309.03 85.22 L1309.65 85.19 L1310.28 85.15 L1310.91 85.12 L1311.54 85.10 L1312.16 85.07 L1312.79 85.04 L1313.42 85.02 L1314.05 85.00 L1314.67 84.97 L1315.30 84.95 L1315.93 84.94 L1316.56 84.92 L1317.19 84.91 L1317.81 84.89 L1318.44 84.88 L1319.07 84.87 L1319.70 84.87 L1320.32 84.86 L1320.95 84.86 L1321.58 84.85 L1322.21 84.85 L1322.83 84.85 L1323.46 84.86 L1324.09 84.86 L1324.72 84.87 L1325.34 84.88 L1325.97 84.89 L1326.60 84.90 L1604.40 87.80" fill="none" stroke="#000" stroke-width="5.15" stroke-linejoin="round"/>
<g stroke="#000" stroke-width="7.60" fill="none">
<path d="M419.20 159.00 H463.20 M441.20 137.00 V181.00"/>
<path d="M741.30 1217.00 H785.30 M763.30 1195.00 V1239.00"/>
<path d="M1360.00 158.80 H1404.00 M1382.00 136.80 V180.80"/>
<path d="M1179.70 97.40 H1223.70 M1201.70 75.40 V119.40"/>
<path d="M1304.60 85.60 H1348.60 M1326.60 63.60 V107.60"/>
</g>
<g font-family="'Liberation Sans', Arial, Helvetica, sans-serif" font-weight="bold" font-size="70.0" fill="#000">
<text transform="translate(144.45 1422.62) scale(1.0000 1.0400)">0</text>
<text transform="translate(144.45 1156.20) scale(1.0000 1.0400)">2</text>
<text transform="translate(142.00 889.06) scale(1.0000 1.0400)">4</text>
<text transform="translate(144.10 622.28) scale(1.0000 1.0400)">6</text>
<text transform="translate(143.75 355.50) scale(1.0000 1.0400)">8</text>
<text transform="translate(105.60 88.72) scale(1.0000 1.0400)">10</text>
<text transform="translate(249.07 1546.12) scale(1.0000 1.0400)">0</text>
<text transform="translate(582.62 1546.12) scale(1.0000 1.0400)">6</text>
<text transform="translate(895.86 1546.48) scale(1.0000 1.0400)">12</text>
<text transform="translate(1229.05 1546.12) scale(1.0000 1.0400)">18</text>
<text transform="translate(1562.76 1546.48) scale(1.0000 1.0400)">24</text>
<text transform="translate(784.00 1625.37) scale(1.0039 1.0023)">Time [hr]</text>
<text transform="translate(75.00 1017.50) rotate(-90) scale(1.0042 1.0023)">Temperature [°C]</text>
<text transform="translate(396.27 219.40) scale(1.0448 1.0352)">A</text>
<text transform="translate(772.88 1279.60) scale(0.9719 1.0248)">B</text>
<text transform="translate(1332.06 225.77) scale(0.9422 1.0362)">C</text>
<text transform="translate(1143.18 85.50) scale(0.9719 1.0166)">B</text>
<text transform="translate(1272.30 77.46) scale(0.9640 1.0523)">C</text>
<text transform="translate(1335.83 76.30) scale(1.0661 1.0311)">A</text>
</g>
<text transform="translate(710.92 156.60) scale(1.0424 0.9867)" font-family="'Liberation Serif', 'Times New Roman', serif" font-size="75.0" font-style="italic" font-weight="normal" fill="#000" stroke="#000" stroke-width="0.90" stroke-linejoin="round">T<tspan dx="1.82" dy="19.40" font-size="76.86" font-style="italic" font-weight="normal">s</tspan><tspan dx="-3.64" dy="-1.06" font-size="72.11" font-style="normal" font-weight="bold">1</tspan></text>
<text transform="translate(557.10 550.50) scale(1.0255 0.9990)" font-family="'Liberation Serif', 'Times New Roman', serif" font-size="75.0" font-style="italic" font-weight="normal" fill="#000" stroke="#000" stroke-width="0.90" stroke-linejoin="round">T<tspan dx="2.53" dy="17.69" font-size="73.20" font-style="italic" font-weight="normal">s</tspan><tspan dx="-0.81" dy="-0.47" font-size="71.59" font-style="normal" font-weight="bold">2</tspan></text>
<text transform="translate(418.62 1160.30) scale(1.0424 0.9949)" font-family="'Liberation Serif', 'Times New Roman', serif" font-size="75.0" font-style="italic" font-weight="normal" fill="#000" stroke="#000" stroke-width="0.90" stroke-linejoin="round">T<tspan dx="0.78" dy="19.34" font-size="76.43" font-style="italic" font-weight="normal">a</tspan></text>
</g>
</svg></body></html>
